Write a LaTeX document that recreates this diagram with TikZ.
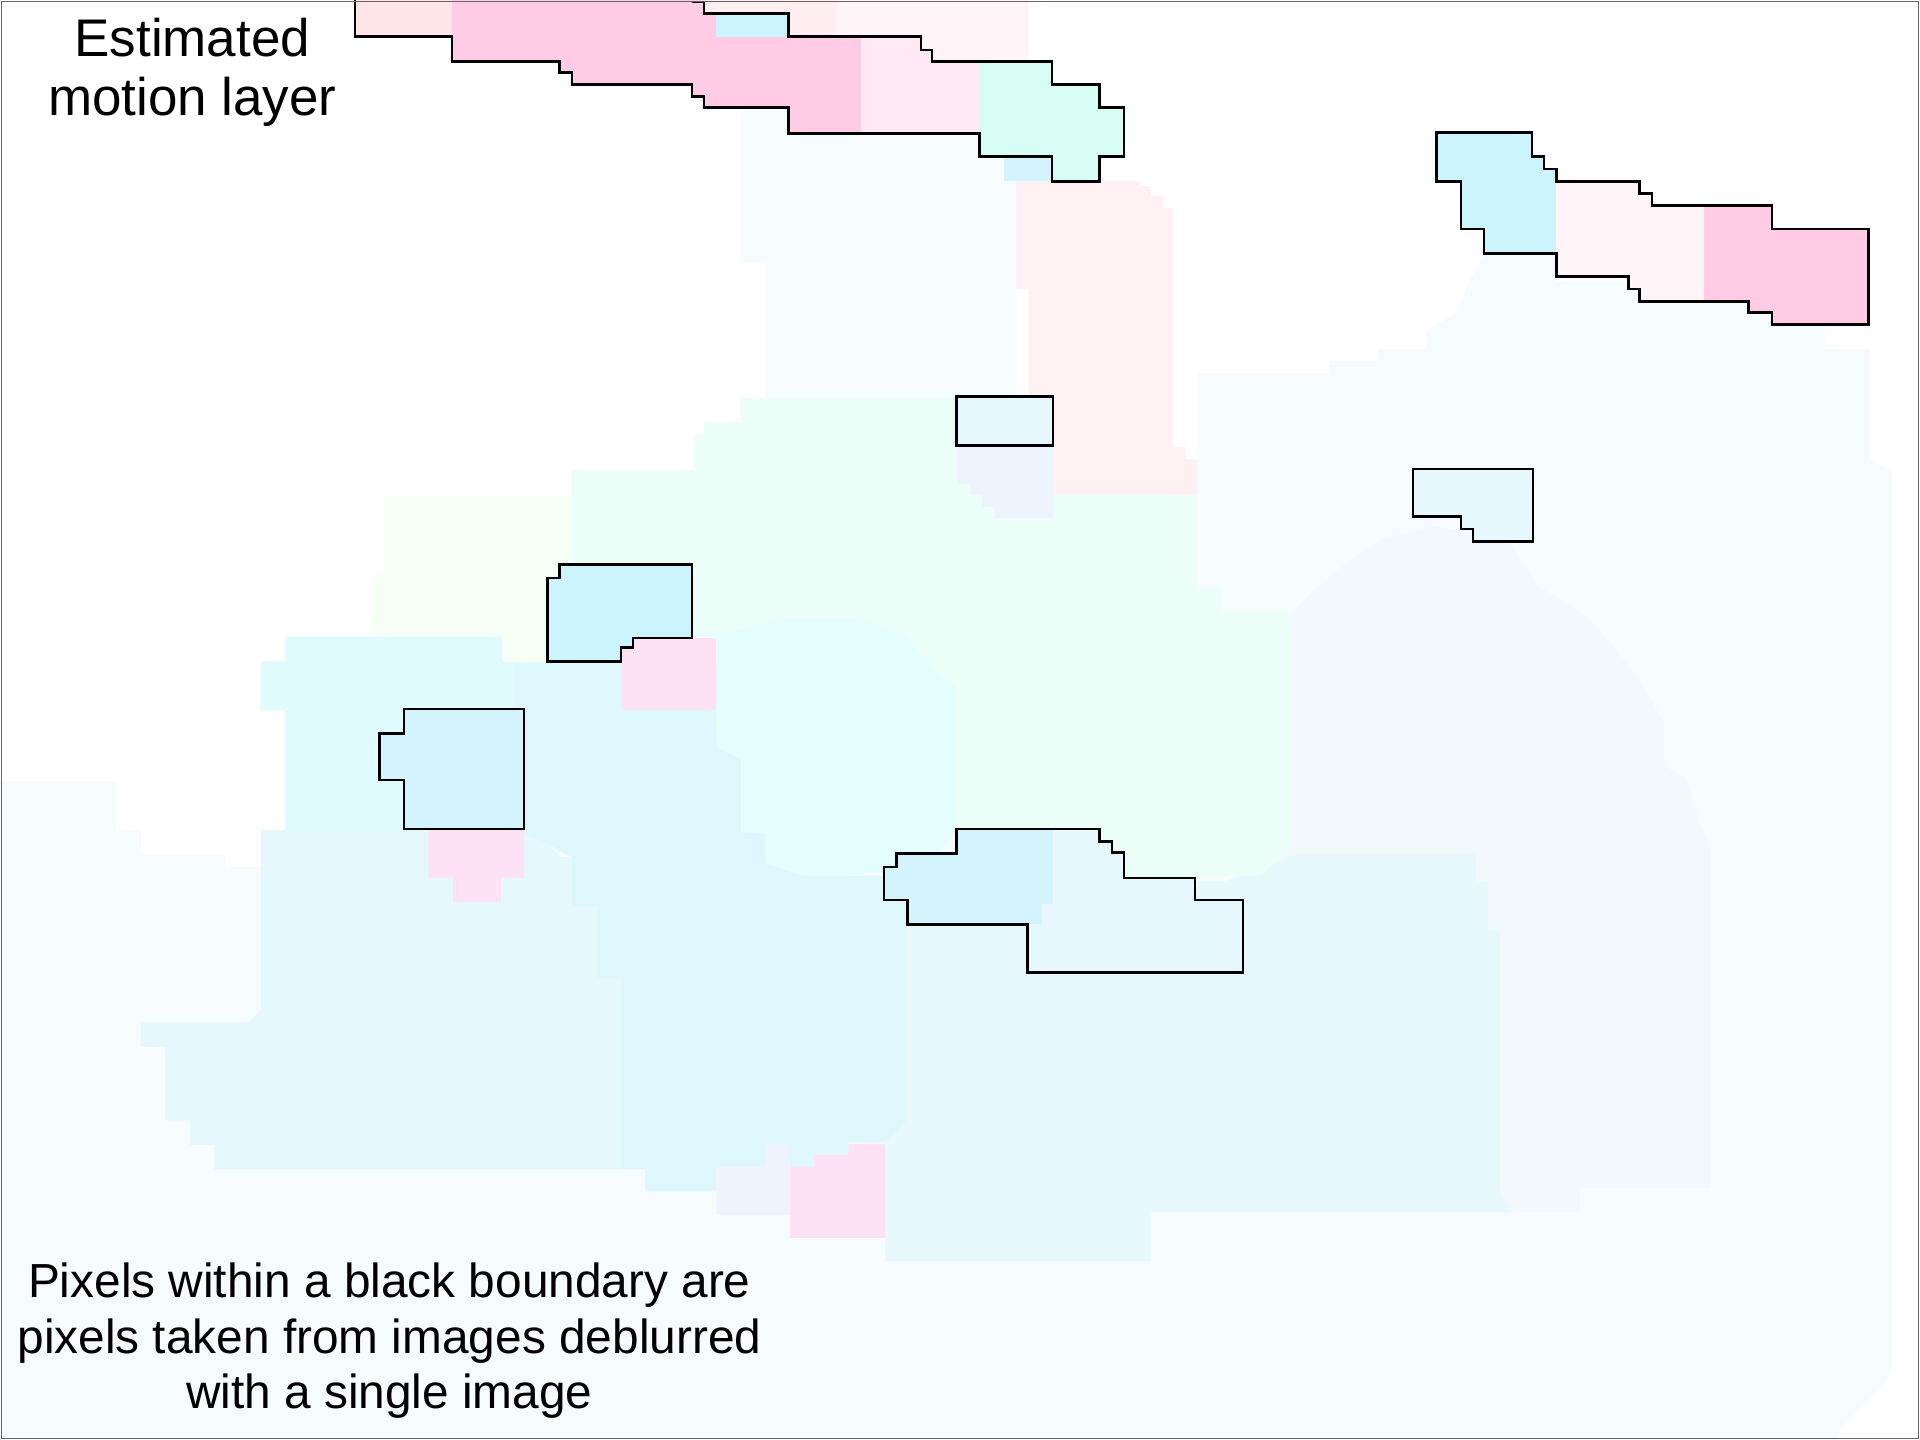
\documentclass[tikz,border=0pt]{standalone}
\usepackage{fontspec}
\setmainfont{Liberation Sans}
\definecolor{bgblue}{HTML}{F6FBFE}
\definecolor{pcolumn}{HTML}{FFF0F3}
\definecolor{ptopa}{HTML}{FFEEF2}
\definecolor{ptopb}{HTML}{FFF5F8}
\definecolor{pgreen}{HTML}{F6FFF6}
\definecolor{pmint}{HTML}{EBFFF8}
\definecolor{pcyan}{HTML}{E4FEFD}
\definecolor{lcyan}{HTML}{E0FBFE}
\definecolor{mcyan}{HTML}{DEF7FC}
\definecolor{lcyanb}{HTML}{E5F8FD}
\definecolor{rpale}{HTML}{F1F9FD}
\definecolor{rcyan}{HTML}{E8F9FE}
\definecolor{spink}{HTML}{FFCBE5}
\definecolor{lpink}{HTML}{FFE9F4}
\definecolor{ppink}{HTML}{FFE4E8}
\definecolor{vpink}{HTML}{FFF4F8}
\definecolor{patchpink}{HTML}{FFE1F6}
\definecolor{cyanfill}{HTML}{CCF4FC}
\definecolor{cyanfillb}{HTML}{D3F4FC}
\definecolor{mintfill}{HTML}{D6FCF3}
\definecolor{palefill}{HTML}{E6F8FE}
\definecolor{lav}{HTML}{EEF4FE}
\definecolor{framegray}{HTML}{666666}
\begin{document}
\begin{tikzpicture}[x=0.01cm,y=-0.01cm,
  outl/.style={draw=black,line width=0.6pt,line join=miter},
  lbl/.style={inner sep=0pt,align=center,text=black}]
\useasboundingbox (0,0) rectangle (1568,1176);
\fill[white] (0,0) rectangle (1568,1176);
% ---------- pale background regions ----------
\fill[bgblue] (605,89) -- (830,89) -- (830,403) -- (978,403) -- (978,305) -- (1085,305) -- (1085,295) -- (1125,295) -- (1125,285) -- (1165,285) -- (1165,270) -- (1190,255) -- (1200,230) -- (1212,207) -- (1271,207) -- (1271,230) -- (1490,230) -- (1490,285) -- (1527,285) -- (1527,375) -- (1545,385) -- (1545,1120) -- (1535,1135) -- (1520,1150) -- (1505,1165) -- (1500,1176) -- (0,1176) -- (0,638) -- (95,638) -- (95,678) -- (115,678) -- (115,698) -- (184,698) -- (184,708) -- (213,708) -- (213,678) -- (233,678) -- (233,580) -- (213,580) -- (213,540) -- (233,540) -- (233,520) -- (303,520) -- (303,470) -- (313,470) -- (313,405) -- (467,405) -- (467,384) -- (567,384) -- (567,355) -- (575,355) -- (575,345) -- (605,345) -- (605,325) -- (625,325) -- (625,215) -- (605,215) -- cycle;
\fill[pcolumn] (830,148) -- (930,148) -- (930,152) -- (940,152) -- (940,160) -- (950,160) -- (950,170) -- (958,170) -- (958,365) -- (968,365) -- (968,375) -- (978,375) -- (978,404) -- (860,404) -- (860,324) -- (840,324) -- (840,236) -- (830,236) -- cycle;
\fill[ptopa] (575,0) -- (684,0) -- (684,30) -- (644,30) -- (644,11) -- (575,11) -- cycle;
\fill[ptopb] (684,0) -- (840,0) -- (840,50) -- (761,50) -- (761,41) -- (752,41) -- (752,30) -- (684,30) -- cycle;
\fill[pgreen] (313,405) -- (467,405) -- (467,541) -- (410,541) -- (410,520) -- (303,520) -- (303,470) -- (313,470) -- cycle;
\fill[rpale] (1000,720) -- (1055,690) -- (1055,500) -- (1075,480) -- (1100,460) -- (1130,440) -- (1170,430) -- (1230,440) -- (1255,478) -- (1298,505) -- (1336,551) -- (1359,590) -- (1359,626) -- (1377,635) -- (1388,672) -- (1397,690) -- (1397,970) -- (1290,970) -- (1290,990) -- (940,990) -- (940,1030) -- (723,1030) -- (723,933) -- (740,915) -- (740,715) -- cycle;
\fill[rcyan] (740,715) -- (1000,720) -- (1040,705) -- (1060,697) -- (1205,697) -- (1205,720) -- (1215,720) -- (1215,760) -- (1225,760) -- (1225,975) -- (1235,990) -- (940,990) -- (940,1030) -- (723,1030) -- (723,933) -- (740,915) -- cycle;
\fill[pmint] (605,325) -- (860,325) -- (860,404) -- (978,404) -- (978,480) -- (998,480) -- (998,500) -- (1055,500) -- (1055,690) -- (1030,715) -- (780,720) -- (780,560) -- (765,550) -- (740,520) -- (700,505) -- (640,505) -- (585,520) -- (467,520) -- (467,384) -- (567,384) -- (567,355) -- (575,355) -- (575,345) -- (605,345) -- cycle;
\fill[lav] (782,363) -- (860,363) -- (860,423) -- (812,423) -- (812,414) -- (802,414) -- (802,404) -- (792,404) -- (792,395) -- (782,395) -- cycle;
\fill[pcyan] (585,520) -- (640,505) -- (700,505) -- (740,520) -- (765,550) -- (780,560) -- (780,680) -- (765,700) -- (740,710) -- (690,715) -- (655,715) -- (625,705) -- (625,680) -- (605,680) -- (605,620) -- (585,610) -- cycle;
\fill[lcyan] (233,520) -- (410,520) -- (410,541) -- (420,541) -- (420,678) -- (233,678) -- (233,580) -- (213,580) -- (213,540) -- (233,540) -- cycle;
\fill[mcyan] (420,541) -- (585,541) -- (585,610) -- (605,620) -- (605,680) -- (625,680) -- (625,705) -- (655,715) -- (740,715) -- (740,915) -- (723,933) -- (693,933) -- (693,943) -- (665,943) -- (665,953) -- (585,953) -- (585,973) -- (527,973) -- (527,955) -- (507,955) -- (507,800) -- (487,800) -- (487,740) -- (467,740) -- (467,700) -- (448,690) -- (420,678) -- cycle;
\fill[lcyanb] (213,678) -- (420,678) -- (448,690) -- (458,700) -- (467,700) -- (467,740) -- (487,740) -- (487,800) -- (507,800) -- (507,955) -- (175,955) -- (175,935) -- (155,935) -- (155,915) -- (135,915) -- (135,855) -- (115,855) -- (115,835) -- (203,835) -- (213,825) -- cycle;
\fill[lav] (585,953) -- (625,953) -- (625,934) -- (645,934) -- (645,992) -- (585,992) -- cycle;
\fill[patchpink] (645,953) -- (665,953) -- (665,943) -- (693,943) -- (693,934) -- (723,934) -- (723,1011) -- (645,1011) -- cycle;
\fill[patchpink] (508,521) rectangle (585,580);
\fill[patchpink] (350,677) -- (428,677) -- (428,717) -- (409,717) -- (409,737) -- (370,737) -- (370,717) -- (350,717) -- cycle;
\fill[cyanfillb] (820,128) rectangle (859,148);
% ---------- top band ----------
\begin{scope}
\clip (290,0) -- (290,30) -- (369,30) -- (369,50) -- (457,50) -- (457,59) -- (467,59) -- (467,69) -- (565,69) -- (565,79) -- (575,79) -- (575,88) -- (644,88) -- (644,109) -- (800,109) -- (800,128) -- (859,128) -- (859,148) -- (898,148) -- (898,128) -- (918,128) -- (918,88) -- (898,88) -- (898,69) -- (859,69) -- (859,50) -- (761,50) -- (761,41) -- (752,41) -- (752,30) -- (644,30) -- (644,11) -- (575,11) -- (575,0) -- cycle;
\fill[ppink] (290,0) rectangle (369,30);
\fill[spink] (369,0) rectangle (703,109);
\fill[lpink] (703,0) rectangle (800,109);
\fill[mintfill] (800,0) rectangle (918,148);
\fill[cyanfill] (585,11) rectangle (644,30);
\end{scope}
\draw[outl] (290,0) -- (290,30) -- (369,30) -- (369,50) -- (457,50) -- (457,59) -- (467,59) -- (467,69) -- (565,69) -- (565,79) -- (575,79) -- (575,88) -- (644,88) -- (644,109) -- (800,109) -- (800,128) -- (859,128) -- (859,148) -- (898,148) -- (898,128) -- (918,128) -- (918,88) -- (898,88) -- (898,69) -- (859,69) -- (859,50) -- (761,50) -- (761,41) -- (752,41) -- (752,30) -- (644,30) -- (644,11) -- (575,11) -- (575,1.5) -- (565,1.5);
% ---------- right band ----------
\begin{scope}
\clip (1173,108) -- (1251,108) -- (1251,128) -- (1261,128) -- (1261,138) -- (1271,138) -- (1271,148) -- (1339,148) -- (1339,158) -- (1349,158) -- (1349,168) -- (1447,168) -- (1447,187) -- (1526,187) -- (1526,265) -- (1447,265) -- (1447,255) -- (1428,255) -- (1428,246) -- (1339,246) -- (1339,236) -- (1330,236) -- (1330,226) -- (1271,226) -- (1271,207) -- (1212,207) -- (1212,187) -- (1193,187) -- (1193,148) -- (1173,148) -- cycle;
\fill[cyanfill] (1173,108) rectangle (1271,265);
\fill[vpink] (1271,108) rectangle (1392,265);
\fill[spink] (1392,108) rectangle (1526,265);
\end{scope}
\draw[outl] (1173,108) -- (1251,108) -- (1251,128) -- (1261,128) -- (1261,138) -- (1271,138) -- (1271,148) -- (1339,148) -- (1339,158) -- (1349,158) -- (1349,168) -- (1447,168) -- (1447,187) -- (1526,187) -- (1526,265) -- (1447,265) -- (1447,255) -- (1428,255) -- (1428,246) -- (1339,246) -- (1339,236) -- (1330,236) -- (1330,226) -- (1271,226) -- (1271,207) -- (1212,207) -- (1212,187) -- (1193,187) -- (1193,148) -- (1173,148) -- cycle;
% ---------- small outlined regions ----------
\draw[outl,fill=palefill] (781,324) rectangle (860,364);
\draw[outl,fill=palefill] (1154,383) -- (1252,383) -- (1252,442) -- (1203,442) -- (1203,432) -- (1193,432) -- (1193,422) -- (1154,422) -- cycle;
\draw[outl,fill=cyanfill] (457,461) -- (565,461) -- (565,521) -- (517,521) -- (517,529) -- (507,529) -- (507,540) -- (447,540) -- (447,472) -- (457,472) -- cycle;
\draw[outl,fill=cyanfillb] (330,579) -- (428,579) -- (428,677) -- (330,677) -- (330,637) -- (310,637) -- (310,599) -- (330,599) -- cycle;
\begin{scope}
\clip (781,677) -- (898,677) -- (898,687) -- (908,687) -- (908,696) -- (918,696) -- (918,717) -- (976,717) -- (976,735) -- (1015,735) -- (1015,794) -- (839,794) -- (839,755) -- (741,755) -- (741,735) -- (722,735) -- (722,708) -- (732,708) -- (732,697) -- (781,697) -- cycle;
\fill[palefill] (722,677) rectangle (1015,794);
\fill[cyanfillb] (722,677) rectangle (860,738);
\fill[cyanfillb] (722,738) rectangle (851,755);
\end{scope}
\draw[outl] (781,677) -- (898,677) -- (898,687) -- (908,687) -- (908,696) -- (918,696) -- (918,717) -- (976,717) -- (976,735) -- (1015,735) -- (1015,794) -- (839,794) -- (839,755) -- (741,755) -- (741,735) -- (722,735) -- (722,708) -- (732,708) -- (732,697) -- (781,697) -- cycle;
% ---------- texts ----------
\node[lbl,font=\fontsize{12.3pt}{13.9pt}\selectfont] (title) at (157,59) {Estimated\\motion layer};
\node[lbl,font=\fontsize{11.1pt}{12.95pt}\selectfont] (note) at (318,1095) {Pixels within a black boundary are\\pixels taken from images deblurred\\with a single image};
% ---------- frame ----------
\draw[framegray,line width=0.3pt] (1,1) rectangle (1567,1175);
\end{tikzpicture}
\end{document}
